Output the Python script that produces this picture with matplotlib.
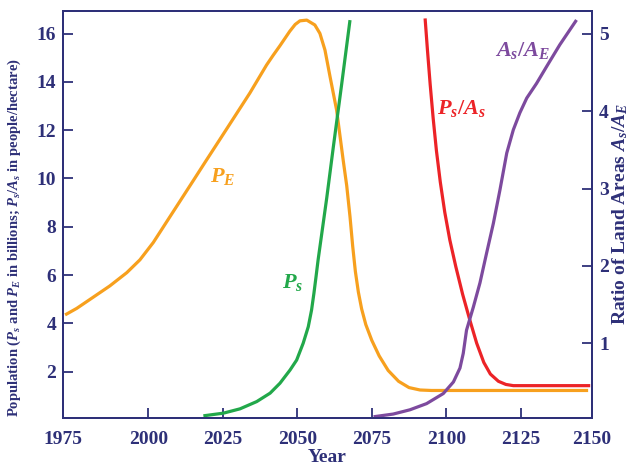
import matplotlib
matplotlib.use("Agg")
import matplotlib.pyplot as plt

# values (years, billions / people per hectare, ratio)
pe_year = [1972.1, 1976.0, 1981.5, 1987.1, 1992.8, 1997.2, 2001.7, 2003.9, 2006.2, 2009.5,
           2012.9, 2015.1, 2019.0, 2024.1, 2028.5, 2034.1, 2039.7, 2041.9, 2044.2, 2047.5,
           2049.3, 2050.9, 2053.2, 2055.9, 2057.6, 2059.3, 2061.0, 2063.2, 2065.4, 2066.6,
           2067.7, 2068.6, 2069.5, 2070.5, 2071.6, 2073.0, 2075.0, 2077.5, 2080.5, 2084.0,
           2087.5, 2091.2, 2095.0, 2147.6]
pe_val = [4.35, 4.62, 5.08, 5.55, 6.10, 6.63, 7.35, 7.77, 8.21, 8.84,
          9.49, 9.91, 10.66, 11.63, 12.47, 13.54, 14.70, 15.10, 15.50, 16.10,
          16.38, 16.53, 16.56, 16.36, 16.01, 15.32, 14.22, 12.84, 10.77, 9.70,
          8.42, 7.20, 6.15, 5.30, 4.60, 3.95, 3.30, 2.65, 2.05, 1.60,
          1.34, 1.24, 1.22, 1.22]

ps_year = [2018.5, 2025.2, 2030.8, 2036.4, 2040.9, 2044.2, 2047.6, 2049.8, 2052.0, 2053.7,
           2054.8, 2055.6, 2056.3, 2057.0, 2059.9, 2062.1, 2064.9, 2067.7]
ps_val = [0.17, 0.28, 0.46, 0.76, 1.11, 1.52, 2.07, 2.48, 3.18, 3.86,
          4.55, 5.25, 5.93, 6.63, 9.20, 11.30, 13.90, 16.56]

psa_year = [2092.9, 2093.7, 2094.6, 2095.6, 2096.7, 2098.0, 2099.5, 2101.2, 2103.2, 2105.5,
            2107.9, 2110.2, 2112.6, 2114.8, 2117.5, 2120.0, 2122.5, 2148.3]
psa_val = [16.63, 15.30, 13.90, 12.50, 11.15, 9.85, 8.60, 7.45, 6.35, 5.20,
           4.14, 3.18, 2.38, 1.90, 1.60, 1.47, 1.42, 1.42]

ase_year = [2075.6, 2082.2, 2087.8, 2093.4, 2099.0, 2102.4, 2104.6, 2105.7, 2106.8, 2109.1,
            2111.3, 2113.5, 2115.8, 2118.0, 2120.3, 2122.5, 2124.7, 2127.0, 2130.3, 2133.7,
            2138.1, 2143.7]
ase_val = [0.05, 0.085, 0.14, 0.22, 0.35, 0.50, 0.68, 0.87, 1.17, 1.47,
           1.78, 2.16, 2.55, 2.98, 3.46, 3.76, 3.98, 4.17, 4.36, 4.58,
           4.86, 5.18]

x_min, x_max = 1971.4, 2148.9
xtick_pos = [x_min, 2000, 2025, 2050, 2075, 2100, 2125, x_max]
xtick_lbl = ["1975", "2000", "2025", "2050", "2075", "2100", "2125", "2150"]
left_ticks = [2, 4, 6, 8, 10, 12, 14, 16]
right_ticks = [1, 2, 3, 4, 5]

navy = "#2E3078"
orange = "#F7A01E"
green = "#22A84A"
red = "#EC2327"
purple = "#7D4A9E"

plt.rcParams["font.family"] = ["Liberation Serif", "DejaVu Serif"]
plt.rcParams["font.weight"] = "bold"
plt.rcParams["mathtext.fontset"] = "custom"
plt.rcParams["mathtext.it"] = "Liberation Serif:italic:bold"
plt.rcParams["mathtext.rm"] = "Liberation Serif:bold"
plt.rcParams["mathtext.bf"] = "Liberation Serif:bold"

fig = plt.figure(figsize=(6.38, 4.66), dpi=100)
ax = fig.add_axes([63 / 638, 48 / 466, 529 / 638, 407.3 / 466])
ax2 = ax.twinx()

ax.plot(pe_year, pe_val, color=orange, lw=2.3, solid_capstyle="butt")
ax.plot(ps_year, ps_val, color=green, lw=2.3, solid_capstyle="butt")
ax.plot(psa_year, psa_val, color=red, lw=2.3, solid_capstyle="butt")
ax2.plot(ase_year, ase_val, color=purple, lw=2.3, solid_capstyle="butt")

ax.set_xlim(x_min, x_max)
ax.set_ylim(0.08, 16.95)
ax2.set_ylim(0.034, 5.30)

ax.set_xticks(xtick_pos)
ax.set_xticklabels(xtick_lbl)
ax.set_yticks(left_ticks)
ax2.set_yticks(right_ticks)

for a in (ax, ax2):
    for s in a.spines.values():
        s.set_color(navy)
        s.set_linewidth(1.4)
ax.tick_params(axis="both", direction="in", length=7, width=1.3, color=navy,
               labelcolor=navy, labelsize=14, pad=5)
ax.tick_params(axis="x", pad=9)
ax2.tick_params(axis="y", direction="in", length=7, width=1.3, color=navy,
                labelcolor=navy, labelsize=14, pad=5)

ax.set_xlabel("Year", color=navy, fontsize=14, fontweight="bold", labelpad=1)
ax.set_ylabel(r"Population ($P_s$ and $P_E$ in billions; $P_s/A_s$ in people/hectare)",
              color=navy, fontsize=10.5, fontweight="bold")
ax.yaxis.set_label_coords(-0.075, 0.444)
ax2.set_ylabel(r"Ratio of Land Areas $A_s/A_E$", color=navy, fontsize=14,
               fontweight="bold", labelpad=1)

ax.text(2024.8, 10.1, r"$P_E$", color=orange, fontsize=16, ha="center", va="center")
ax.text(2048.5, 5.7, r"$P_s$", color=green, fontsize=16, ha="center", va="center")
ax.text(2105.0, 12.9, r"$P_s/A_s$", color=red, fontsize=16, ha="center", va="center")
ax.text(2125.7, 15.3, r"$A_s/A_E$", color=purple, fontsize=16, ha="center", va="center")

fig.savefig("out.png", dpi=100)
